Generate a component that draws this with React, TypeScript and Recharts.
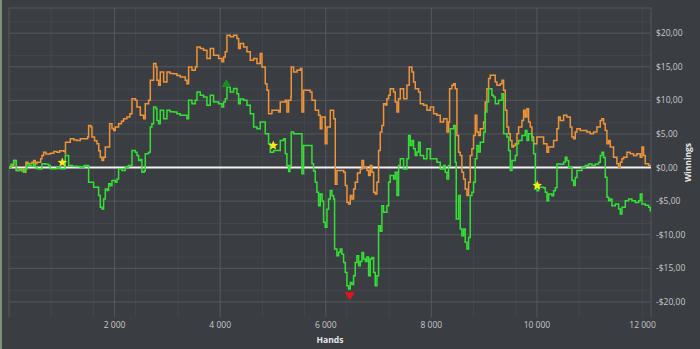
import React from "react"
import {
  ComposedChart,
  Line,
  Scatter,
  XAxis,
  YAxis,
  CartesianGrid,
  ReferenceLine
} from "recharts"

// hands played (x) and winnings in $ (y)
const orangeHands = [
  0, 40, 88, 138, 200, 277, 320, 360, 435, 466, 498, 530, 600, 624, 656, 700, 782, 850, 908, 960,
  1035, 1066, 1070, 1161, 1230, 1287, 1350, 1413, 1489, 1508, 1552, 1571, 1620, 1666, 1700, 1729, 1761, 1792, 1824, 1887,
  1906, 1950, 1982, 2013, 2076, 2130, 2171, 2234, 2290, 2329, 2392, 2424, 2487, 2550, 2581, 2644, 2676, 2739, 2783, 2802,
  2834, 2865, 2929, 2992, 3050, 3118, 3180, 3244, 3339, 3370, 3402, 3465, 3528, 3560, 3623, 3686, 3749, 3812, 3875, 3970,
  4033, 4065, 4096, 4128, 4191, 4254, 4317, 4349, 4380, 4443, 4507, 4570, 4633, 4696, 4759, 4791, 4854, 4886, 4917, 4980,
  5107, 5138, 5233, 5264, 5296, 5340, 5346, 5391, 5454, 5517, 5548, 5580, 5643, 5706, 5738, 5801, 5864, 5896, 5927, 5990,
  6022, 6085, 6148, 6180, 6211, 6274, 6340, 6369, 6401, 6432, 6464, 6495, 6527, 6558, 6600, 6653, 6685, 6716, 6779, 6811,
  6842, 6874, 6906, 6937, 6969, 7000, 7032, 7063, 7095, 7130, 7158, 7190, 7221, 7284, 7316, 7348, 7379, 7411, 7474, 7537,
  7581, 7632, 7663, 7695, 7758, 7790, 7853, 7916, 7979, 8042, 8105, 8168, 8231, 8295, 8326, 8345, 8389, 8421, 8452, 8484,
  8515, 8547, 8578, 8610, 8641, 8673, 8705, 8736, 8768, 8799, 8831, 8862, 8894, 8926, 8989, 9020, 9052, 9084, 9115, 9178,
  9210, 9242, 9305, 9337, 9368, 9400, 9431, 9463, 9494, 9526, 9557, 9589, 9621, 9652, 9715, 9747, 9778, 9810, 9841, 9873,
  9905, 9936, 9968, 9999, 10062, 10126, 10189, 10220, 10283, 10315, 10378, 10409, 10441, 10504, 10567, 10631, 10662, 10694, 10725, 10757,
  10820, 10883, 10946, 11009, 11072, 11136, 11199, 11230, 11262, 11294, 11325, 11357, 11388, 11451, 11514, 11546, 11578, 11609, 11641, 11704,
  11767, 11830, 11893, 11956, 11988, 12019, 12051, 12114, 12160
]
const orangeWinnings = [
  0, 0.3, 1.05, -0.44, -0.2, -0.69, 0.8, 0.6, 0.8, 1.05, 0.55, 0.8, 1.3, 1.8, 2.29, 2.0, 2.14, 2.4, 2.29, 2.5,
  2.44, 2.05, 3.78, 4.28, 4.1, 4.04, 4.3, 4.28, 4.53, 6.27, 6.02, 4.53, 4.0, 3.54, 2.5, 1.55, 1.05, 1.55, 3.04, 3.04,
  6.52, 5.8, 5.53, 6.02, 6.52, 6.9, 7.27, 7.52, 8.0, 10.25, 10.0, 9.01, 7.77, 7.27, 9.51, 10.0, 12.99, 15.48, 14.98, 12.99,
  12.24, 14.23, 12.74, 14.23, 14.0, 13.98, 13.7, 13.49, 12.99, 12.49, 14.98, 14.48, 14.98, 17.96, 17.72, 17.47, 16.22, 17.72, 16.72, 16.22,
  15.73, 16.47, 17.22, 19.71, 19.46, 19.71, 19.21, 17.72, 18.46, 17.96, 17.22, 15.98, 16.22, 15.48, 16.97, 14.98, 12.49, 11.5, 8.02, 8.51,
  8.26, 9.76, 10.0, 8.26, 10.0, 10.5, 14.98, 14.23, 14.48, 14.73, 8.26, 11.5, 11.5, 11.25, 10.0, 8.51, 7.77, 5.78, 7.52, 3.54,
  6.02, 8.51, 7.27, -2.5, -0.44, -0.44, -0.7, -2.68, -5.17, -5.42, -4.18, -4.67, -3.18, -2.18, -0.8, -0.2, 1.05, 0.05, -0.44, -1.19,
  0.3, -0.69, -3.68, -3.93, -2.18, 2.54, 5.28, 6.27, 9.51, 9.3, 10.25, 10.75, 11.74, 11.25, 9.76, 8.26, 10.25, 11.74, 10.25, 12.24,
  14.98, 14.23, 12.74, 11.74, 11.25, 9.51, 9.26, 8.51, 9.01, 8.01, 7.77, 6.77, 7.27, 5.28, 6.77, 11.74, 12.24, 12.49, 11.74, 4.78,
  2.29, 1.79, -0.69, -1.69, -3.18, -4.18, -2.18, 1.79, 2.79, 4.78, 7.77, 5.28, 4.78, 5.77, 6.77, 9.76, 11.74, 13.24, 13.73, 13.73,
  12.74, 12.24, 12.49, 12.99, 11.5, 8.51, 6.02, 5.03, 4.04, 3.04, 3.29, 3.54, 5.03, 6.02, 7.02, 8.51, 7.52, 8.76, 6.77, 6.02,
  4.53, 3.54, 3.54, 4.53, 4.53, 3.54, 2.29, 3.04, 3.04, 4.04, 5.78, 7.52, 7.02, 7.77, 7.52, 6.02, 4.53, 4.28, 5.28, 5.78,
  5.53, 5.53, 5.28, 5.03, 5.28, 6.02, 7.02, 7.27, 6.52, 5.53, 3.54, 4.04, 3.04, 1.55, 0.55, 0.05, 0.8, 1.3, 1.55, 2.29,
  2.05, 1.8, 2.05, 1.55, 3.04, 1.8, 0.55, 0.3, 0.3
]

const greenHands = [
  0, 40, 88, 120, 138, 200, 240, 277, 300, 340, 380, 420, 466, 498, 530, 580, 624, 690, 750, 782,
  850, 908, 970, 1035, 1066, 1129, 1200, 1280, 1350, 1420, 1489, 1508, 1560, 1603, 1666, 1698, 1729, 1761, 1792, 1824,
  1860, 1887, 1920, 1950, 2013, 2045, 2076, 2139, 2203, 2260, 2329, 2392, 2424, 2455, 2490, 2518, 2560, 2581, 2644, 2676,
  2707, 2739, 2783, 2802, 2834, 2865, 2929, 2992, 3050, 3118, 3180, 3244, 3339, 3370, 3402, 3465, 3528, 3560, 3623, 3686,
  3749, 3812, 3875, 3970, 4033, 4065, 4096, 4128, 4191, 4254, 4317, 4349, 4380, 4443, 4507, 4570, 4633, 4696, 4759, 4822,
  4854, 4917, 4949, 5012, 5107, 5138, 5201, 5233, 5264, 5296, 5320, 5346, 5391, 5454, 5517, 5548, 5580, 5643, 5706, 5738,
  5769, 5801, 5832, 5864, 5896, 5930, 5959, 5990, 6022, 6053, 6085, 6117, 6148, 6167, 6211, 6243, 6274, 6306, 6338, 6369,
  6401, 6432, 6464, 6495, 6527, 6558, 6590, 6622, 6653, 6685, 6716, 6750, 6779, 6811, 6842, 6874, 6906, 6937, 6969, 7000,
  7032, 7063, 7095, 7158, 7190, 7221, 7284, 7316, 7348, 7379, 7411, 7474, 7537, 7569, 7600, 7632, 7663, 7695, 7726, 7758,
  7790, 7853, 7916, 7979, 8042, 8105, 8168, 8231, 8263, 8295, 8326, 8358, 8421, 8452, 8471, 8515, 8547, 8578, 8610, 8641,
  8673, 8705, 8736, 8768, 8799, 8831, 8862, 8894, 8926, 8989, 9020, 9052, 9084, 9115, 9147, 9178, 9211, 9274, 9337, 9369,
  9432, 9463, 9495, 9527, 9590, 9621, 9653, 9716, 9779, 9811, 9842, 9905, 9937, 9969, 10000, 10032, 10126, 10158, 10190, 10221,
  10284, 10316, 10348, 10379, 10442, 10505, 10537, 10568, 10600, 10663, 10695, 10726, 10758, 10852, 10916, 10979, 11042, 11105, 11168, 11200,
  11231, 11262, 11294, 11326, 11357, 11388, 11420, 11484, 11547, 11578, 11610, 11673, 11736, 11799, 11862, 11925, 11957, 11989, 12052, 12115,
  12146, 12160
]
const greenWinnings = [
  0, 0.5, 1.05, 1.0, -0.44, -0.3, -0.5, -0.69, -0.2, 0.55, 0.3, 0.2, 0.55, 0.1, -0.19, -0.2, 0.55, 0.5, 0.3, -0.19,
  -0.19, 0.0, -0.19, -0.19, 1.8, 0.3, 0.2, 0.15, 0.05, 0.3, 0.3, -2.19, -2.2, -2.93, -2.93, -4.18, -5.92, -6.17, -4.67, -3.18,
  -3.4, -2.43, -2.7, -1.94, -2.19, -1.69, -0.19, -0.44, 0.05, 0.3, 2.54, 2.29, 1.8, 1.05, 1.2, -0.69, -0.5, 2.05, 2.29, 6.02,
  6.52, 9.01, 8.76, 7.02, 6.52, 8.51, 7.27, 8.51, 8.3, 8.26, 8.0, 7.77, 7.77, 7.27, 10.0, 9.51, 10.0, 11.25, 10.75, 10.5,
  9.26, 10.75, 9.76, 9.51, 9.01, 9.76, 10.25, 12.0, 11.25, 11.75, 11.0, 9.51, 10.2, 10.0, 9.26, 8.02, 6.02, 5.78, 6.77, 6.77,
  5.03, 3.54, 2.29, 2.54, 2.54, 4.04, 4.28, 2.05, 0.3, -0.6, 0.3, 5.28, 5.03, 5.03, 5.03, -0.94, 3.29, 3.29, 3.29, 0.55,
  -0.5, -2.19, -3.68, -5.67, -3.93, -5.0, -8.15, -8.9, -6.2, -4.68, -3.43, -4.2, -4.67, -12.13, -13.13, -12.6, -12.13, -12.9, -14.12, -15.62,
  -17.61, -18.1, -17.1, -17.4, -16.1, -14.12, -13.13, -14.62, -14.0, -12.63, -13.63, -14.0, -13.3, -16.1, -13.63, -13.4, -15.62, -17.61, -16.1, -8.65,
  -9.5, -5.67, -6.66, -5.67, -2.19, -1.19, -1.69, -0.69, -4.18, 0.3, 1.3, -0.2, 1.3, 4.78, 3.29, 4.03, 2.79, 1.79, 2.3, 3.78,
  1.79, 1.3, 2.79, 1.3, 1.3, 0.8, -0.2, 0.3, -0.69, -1.69, 0.3, 5.77, 6.27, 0.8, -7.66, -4.17, -9.15, -10.15, -9.15, -11.14,
  -12.14, -10.4, -4.17, -3.68, -2.19, 1.3, 3.29, 2.3, 3.78, 5.28, 8.26, 9.76, 11.74, 11.74, 10.75, 10.5, 9.5, 10.0, 11.0, 5.02,
  4.53, 2.53, -0.45, 1.04, 1.79, 3.53, 4.03, 4.77, 5.52, 4.03, 5.02, 4.03, 2.04, -3.19, -3.44, -2.94, -3.0, -3.68, -4.93, -3.93,
  -4.2, -3.44, -3.0, 0.54, 0.5, 0.79, 1.54, 1.04, 0.05, -1.94, -2.69, -1.5, -0.45, 0.05, 0.3, 0.54, 0.3, 0.54, 0.8, 1.79,
  2.29, 1.5, -1.45, -4.43, -4.93, -4.7, -5.67, -5.43, -6.17, -6.92, -5.92, -4.93, -4.68, -4.93, -5.2, -4.93, -3.93, -5.43, -5.6, -5.92,
  -6.42, -6.2
]

// event markers
const starHands = [1010, 5006, 10006]
const starWinnings = [0.75, 3.28, -2.69]
const peakHands = [4116]
const peakWinnings = [12.5]
const lowHands = [6455]
const lowWinnings = [-19.1]

const xTicks = [2000, 4000, 6000, 8000, 10000, 12000]
const yTicks = [-20, -15, -10, -5, 0, 5, 10, 15, 20]

const X_MAX = 12160
const Y_MIN = -22.25
const Y_MAX = 23.75

const zip = (hs: number[], vs: number[]) => hs.map((h, i) => ({ h, v: vs[i] }))

const orangeData = zip(orangeHands, orangeWinnings)
const greenData = zip(greenHands, greenWinnings)
const starData = zip(starHands, starWinnings)
const peakData = zip(peakHands, peakWinnings)
const lowData = zip(lowHands, lowWinnings)

const minorX: number[] = []
for (let h = 400; h < X_MAX; h += 400) minorX.push(h)
const minorY: number[] = []
for (let k = -13; k <= 13; k++) minorY.push((k * 5) / 3)

const fmtHands = (v: number) => String(v).replace(/\B(?=(\d{3})+(?!\d))/g, " ")
const fmtMoney = (v: number) => (v < 0 ? "-" : "") + "$" + Math.abs(v).toFixed(2).replace(".", ",")

const FONT = "'Open Sans', 'DejaVu Sans', sans-serif"
const TICK = { fontSize: 8.5, fill: "#c8c9cb", fontFamily: FONT }

const Star = (props: any) => {
  const { cx, cy } = props
  const pts: string[] = []
  for (let i = 0; i < 10; i++) {
    const r = i % 2 === 0 ? 5 : 2.2
    const a = -Math.PI / 2 + (i * Math.PI) / 5
    pts.push(`${cx + r * Math.cos(a)},${cy + r * Math.sin(a)}`)
  }
  return <polygon points={pts.join(" ")} fill="#f7ec1c" />
}

const TriUp = (props: any) => {
  const { cx, cy } = props
  return <polygon points={`${cx},${cy - 4.5} ${cx + 5},${cy + 3.5} ${cx - 5},${cy + 3.5}`} fill="#1c8a22" />
}

const TriDown = (props: any) => {
  const { cx, cy } = props
  return <polygon points={`${cx},${cy + 4.5} ${cx + 5},${cy - 3.5} ${cx - 5},${cy - 3.5}`} fill="#e8121a" />
}

export default function App() {
  return (
    <div style={{ position: "absolute", left: 0, top: 0, width: 700, height: 349, background: "#3a3d42" }}>
      <div style={{ position: "absolute", left: 0, top: 0, width: 2, height: 349, background: "#7d9279" }} />
      <ComposedChart
        width={700}
        height={349}
        margin={{ top: 8, right: 0, bottom: 0, left: 9 }}
        style={{ position: "absolute", left: 0, top: 0 }}
      >
        <CartesianGrid
          stroke="#44474c"
          strokeWidth={1}
          verticalValues={minorX}
          horizontalValues={minorY}
        />
        <CartesianGrid
          stroke="#55585d"
          strokeWidth={1}
          verticalValues={[0, ...xTicks, X_MAX]}
          horizontalValues={[Y_MIN, ...yTicks, Y_MAX]}
        />
        <XAxis
          type="number"
          dataKey="h"
          domain={[0, X_MAX]}
          ticks={xTicks}
          tickFormatter={fmtHands}
          tick={TICK}
          tickLine={false}
          axisLine={false}
          tickSize={0}
          tickMargin={5}
          height={32}
          allowDataOverflow
          label={{
            value: "Hands",
            position: "insideBottom",
            offset: 6,
            fill: "#e8e8e8",
            fontSize: 8.5,
            fontWeight: "bold",
            fontFamily: FONT
          }}
        />
        <YAxis
          type="number"
          dataKey="v"
          orientation="right"
          domain={[Y_MIN, Y_MAX]}
          ticks={yTicks}
          tickFormatter={fmtMoney}
          tick={TICK}
          tickLine={false}
          axisLine={false}
          tickSize={0}
          tickMargin={5}
          width={49}
          allowDataOverflow
          label={{
            value: "Winnings",
            angle: -90,
            position: "center",
            dx: 12,
            fill: "#e8e8e8",
            fontSize: 8.5,
            fontWeight: "bold",
            fontFamily: FONT
          }}
        />
        <ReferenceLine y={0} stroke="#f2f2f2" strokeWidth={2} />
        <Line
          data={orangeData}
          dataKey="v"
          type="stepAfter"
          stroke="#ef9438"
          strokeWidth={1.5}
          dot={false}
          isAnimationActive={false}
        />
        <Line
          data={greenData}
          dataKey="v"
          type="stepAfter"
          stroke="#35e035"
          strokeWidth={1.5}
          dot={false}
          isAnimationActive={false}
        />
        <Scatter data={starData} dataKey="v" shape={Star} isAnimationActive={false} />
        <Scatter data={peakData} dataKey="v" shape={TriUp} isAnimationActive={false} />
        <Scatter data={lowData} dataKey="v" shape={TriDown} isAnimationActive={false} />
      </ComposedChart>
    </div>
  )
}
